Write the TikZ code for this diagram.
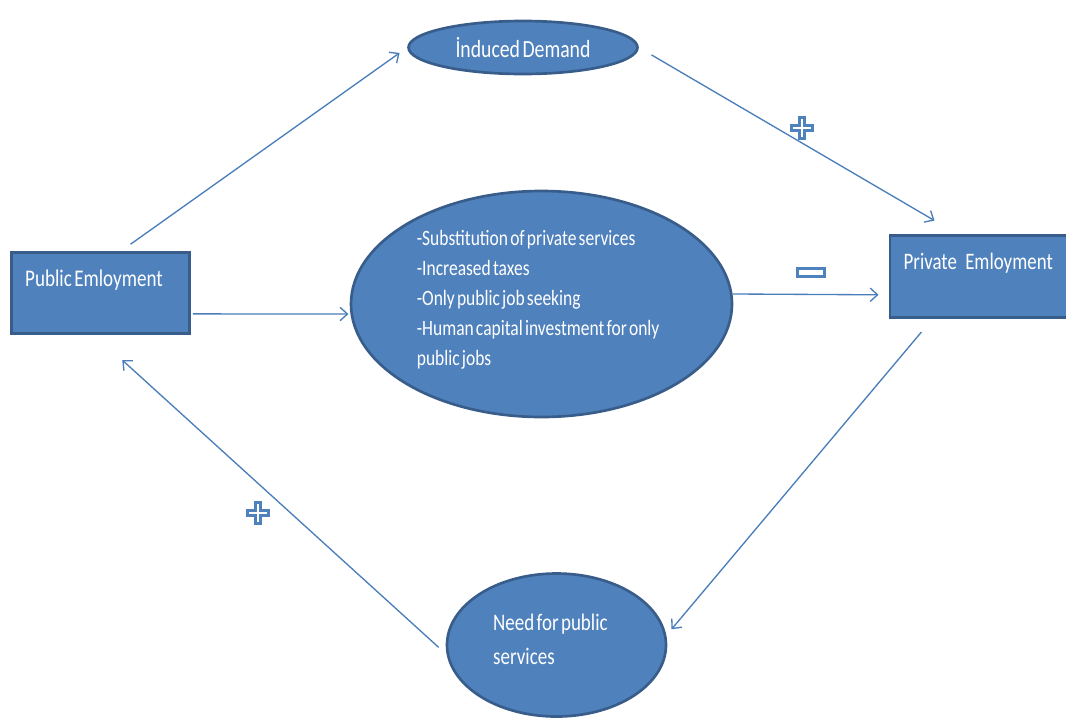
\documentclass[tikz,border=0pt]{standalone}
\usepackage{fontspec}
\newfontfamily\diagfont[FakeStretch=0.8, WordSpace={0.55}]{Carlito}
\usetikzlibrary{arrows.meta,shapes.geometric}
\definecolor{boxfill}{HTML}{4F81BD}
\definecolor{boxedge}{HTML}{385D8A}
\definecolor{linkcol}{HTML}{4A7EBB}
\tikzset{
  oval/.style={ellipse, draw=boxedge, fill=boxfill, line width=2pt, text=white, inner sep=0pt},
  sector/.style={rectangle, draw=boxedge, fill=boxfill, line width=2.2pt, text=white,
    align=flush left, inner xsep=10pt, text height=12pt, text depth=22pt},
  link/.style={->, draw=linkcol, line width=1pt},
  signmark/.style={draw=boxfill, fill=white, line width=2.6pt},
  pics/plusmark/.style={code={
    \draw[signmark] (-10.25,-2.75) -- (-2.75,-2.75) -- (-2.75,-10.25) -- (2.75,-10.25)
      -- (2.75,-2.75) -- (10.25,-2.75) -- (10.25,2.75) -- (2.75,2.75) -- (2.75,10.25)
      -- (-2.75,10.25) -- (-2.75,2.75) -- (-10.25,2.75) -- cycle;
  }}
}
\begin{document}
\begin{tikzpicture}[x=0.75pt, y=-0.75pt, >={Straight Barb[length=5.5pt,width=10pt]}]
    \useasboundingbox (0,0) rectangle (1066,718);
    \clip (0,0) rectangle (1066,718);

    \node (pub) at (100.5,293) [sector, minimum width=133.5pt, minimum height=60.75pt,
      text width=113pt, font={\diagfont\fontsize{17.9pt}{21pt}\selectfont}] {Public Emloyment};
    \node (priv) at (983,276.5) [sector, minimum width=139.5pt, minimum height=61.5pt,
      text width=119pt, font={\diagfont\fontsize{17.7pt}{21pt}\selectfont}] {Private\hspace{0.25em} Emloyment};

    \node (ind) at (523,47.5) [oval, minimum width=171.75pt, minimum height=39.75pt,
      font={\diagfont\fontsize{18.5pt}{22pt}\selectfont}] {İnduced Demand};
    \node (big) at (541.5,304) [oval, minimum width=285.75pt, minimum height=169.5pt,
      text width=187pt, align=flush left, font={\diagfont\fontsize{16.4pt}{22.5pt}\selectfont}]
      {-Substitution of private services\\-Increased taxes\\-Only public job seeking\\
       -Human capital investment for only\\public jobs\\[-13.5pt]\mbox{}};
    \node (need) at (556.5,645) [oval, minimum width=164.25pt, minimum height=107.25pt,
      text width=95pt, align=flush left, font={\diagfont\fontsize{17.8pt}{25.5pt}\selectfont}]
      {Need for public\\services\\[-16.5pt]\mbox{}};

    \draw [link, shorten <=8.8pt, shorten >=7pt] (pub.64) -- (ind.west);
    \draw [link, shorten <=11pt, shorten >=20pt] (ind.east) -- (priv.121);
    \draw [link, shorten <=1.5pt, shorten >=1.5pt] (pub.-13) -- (big.183);
    \draw [link, shorten >=7.5pt] (big.3) -- (priv.191);
    \draw [link, shorten <=12.8pt, shorten >=6pt] (priv.220) -- (need.5);
    \draw [link, shorten <=8pt, shorten >=28pt] (need.185) -- (pub.262);

    \pic at (802,128) {plusmark};
    \pic at (258,513) {plusmark};
    \draw [signmark] (797.75,268.75) rectangle (824.25,276.25);
\end{tikzpicture}
\end{document}
